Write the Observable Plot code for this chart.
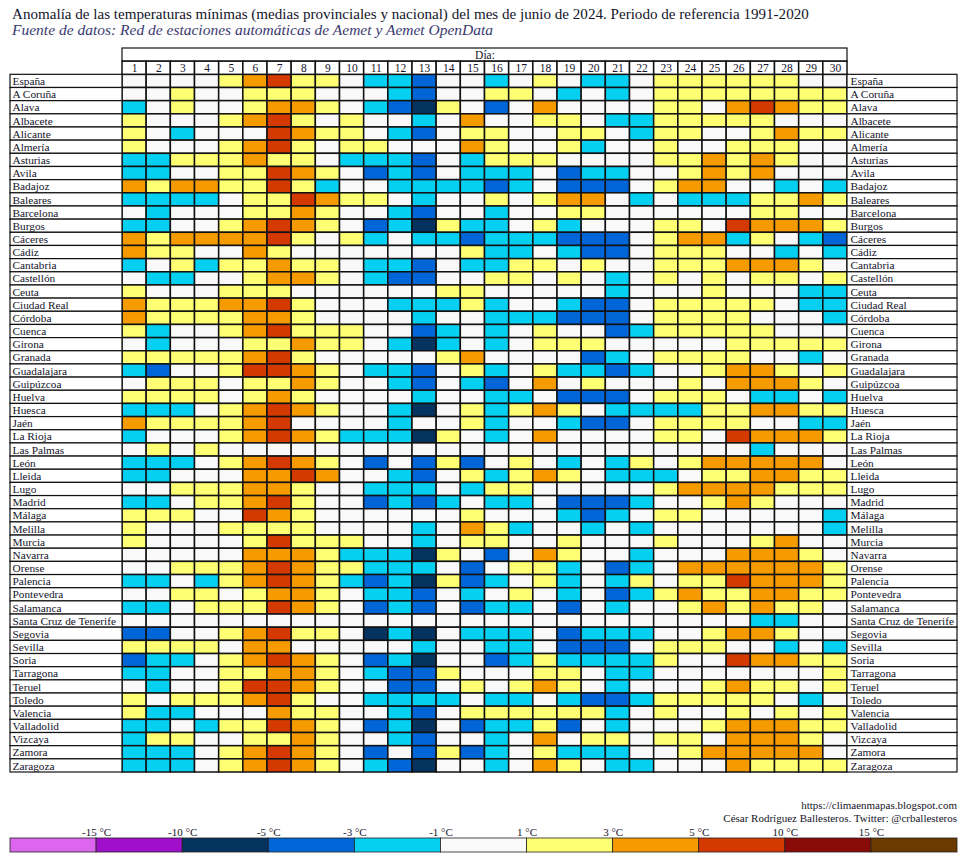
<!DOCTYPE html>
<html>
<head>
<meta charset="utf-8">
<script src="https://cdn.jsdelivr.net/npm/d3@7"></script>
<script src="https://cdn.jsdelivr.net/npm/@observablehq/plot@0.6"></script>
<style>
  body { margin: 0; background: #fff; font-family: "Liberation Serif", "Times New Roman", serif; }
  #wrap { position: relative; width: 967px; height: 860px; overflow: hidden; }
  #chart, #legend { position: absolute; left: 0; }
  #chart { top: 0; }
  #legend { top: 820px; }
  #title { position: absolute; left: 12px; top: 6px; font-size: 15.1px; color: #14142a; white-space: nowrap; }
  #sub { position: absolute; left: 12px; top: 21px; font-size: 15.5px; font-style: italic; color: #3a3a70; white-space: nowrap; }
  #credit { position: absolute; right: 10px; top: 799px; font-size: 11px; line-height: 13px; text-align: right; color: #14142a; }
</style>
</head>
<body>
<div id="wrap">
  <div id="chart"></div>
  <div id="title">Anomalía de las temperaturas mínimas (medias provinciales y nacional) del mes de junio de 2024. Periodo de referencia 1991-2020</div>
  <div id="sub">Fuente de datos: Red de estaciones automáticas de Aemet y Aemet OpenData</div>
  <div id="credit">https://climaenmapas.blogspot.com<br>César Rodríguez Ballesteros. Twitter: @crballesteros</div>
  <div id="legend"></div>
</div>
<script>
// ---- Data ----
const dias = [1,2,3,4,5,6,7,8,9,10,11,12,13,14,15,16,17,18,19,20,21,22,23,24,25,26,27,28,29,30];

const provincias = ["España","A Coruña","Alava","Albacete","Alicante","Almería","Asturias","Avila","Badajoz","Baleares",
  "Barcelona","Burgos","Cáceres","Cádiz","Cantabria","Castellón","Ceuta","Ciudad Real","Córdoba","Cuenca",
  "Girona","Granada","Guadalajara","Guipúzcoa","Huelva","Huesca","Jaén","La Rioja","Las Palmas","León",
  "Lleida","Lugo","Madrid","Málaga","Melilla","Murcia","Navarra","Orense","Palencia","Pontevedra",
  "Salamanca","Santa Cruz de Tenerife","Segovia","Sevilla","Soria","Tarragona","Teruel","Toledo","Valencia","Valladolid",
  "Vizcaya","Zamora","Zaragoza"];

// Anomalía estimada (°C), días 1..30, una fila por provincia
const anomalias = [
  [0,0,0,0,2,4,7,2,2,0, -2,-2,-4,0,0,-2,0,2,0,-2, -2,0,2,2,2,2,2,2,0,0],      // España
  [0,0,2,0,0,2,2,2,0,0, 0,-2,-4,0,0,2,2,0,-2,0, -2,0,2,2,2,2,2,2,2,2],        // A Coruña
  [-2,0,2,0,0,2,4,4,2,0, -2,-4,-7,2,0,-4,0,4,0,0, 0,0,2,2,0,4,7,4,2,2],       // Alava
  [2,0,0,0,2,4,7,2,0,2, 0,0,-2,0,4,0,0,2,2,0, -2,-2,2,2,2,2,2,0,0,0],         // Albacete
  [2,0,-2,0,0,0,7,4,2,2, 0,-2,-4,0,2,2,0,0,2,2, 0,-2,2,2,0,0,2,4,2,2],        // Alicante
  [2,0,0,0,2,4,7,2,0,2, 2,0,0,0,4,2,0,0,2,-2, 0,0,2,0,0,2,2,2,0,0],           // Almería
  [-2,-2,2,2,2,4,2,2,0,-2, -2,-2,-4,0,-2,2,2,2,0,0, 0,0,2,2,4,2,4,2,0,0],     // Asturias
  [-2,-2,0,0,2,2,7,4,2,0, -4,-2,-4,0,-2,-2,-2,0,-4,-2, -2,0,0,2,4,2,4,0,0,0], // Avila
  [4,2,4,4,2,2,7,2,-2,0, 0,-2,-2,-2,-2,-4,-2,0,-4,-4, -4,0,2,4,4,0,0,-2,0,-2],// Badajoz
  [-2,-2,-2,-2,0,2,2,7,4,2, 2,0,-2,0,0,2,0,2,4,4, 0,-2,0,-2,-2,-2,2,2,4,2],   // Baleares
  [0,-2,0,0,0,2,2,4,2,0, 0,-2,-4,0,0,-2,0,0,2,2, 0,0,0,0,0,0,2,2,0,0],        // Barcelona
  [-2,-2,0,0,2,4,7,4,2,0, -4,-2,-7,2,-2,-2,0,2,-2,0, 0,0,2,2,0,7,4,4,4,2],    // Burgos
  [4,2,4,4,4,4,7,2,0,2, -2,0,-2,-2,-4,-2,-2,-2,-4,-4, -4,0,2,4,4,-2,2,0,-2,-4],// Cáceres
  [4,2,2,0,0,4,2,0,0,0, 0,0,0,0,2,-2,-2,0,-2,-4, -4,0,2,2,2,0,0,-2,0,-2],     // Cádiz
  [-2,0,2,-2,2,2,4,2,2,0, -2,-2,-4,0,-2,-2,2,2,0,2, 0,0,2,2,2,4,4,4,2,0],     // Cantabria
  [0,-2,-2,0,0,2,4,4,2,0, -2,-4,-4,0,0,2,2,0,2,0, -2,0,2,0,2,0,2,2,0,2],      // Castellón
  [2,0,0,0,2,2,2,0,0,0, 0,0,0,2,2,0,0,0,0,0, -2,0,0,0,2,0,0,0,-2,-2],         // Ceuta
  [4,2,2,2,4,4,7,2,0,0, 0,-2,-2,-2,2,-2,0,0,-2,-4, -4,0,2,2,2,2,2,0,-2,-2],   // Ciudad Real
  [4,2,2,2,2,4,4,2,0,0, 0,0,-2,0,0,-2,-2,-2,-4,-4, -4,0,2,2,2,2,0,0,0,-2],    // Córdoba
  [2,-2,0,0,2,4,7,2,2,2, 0,0,-4,-2,0,-2,0,2,0,0, -4,-2,2,2,2,2,2,0,0,0],      // Cuenca
  [0,-2,0,0,0,2,2,4,2,2, 0,-2,-7,-2,0,-2,0,2,2,2, 0,0,0,0,0,2,2,2,2,2],       // Girona
  [2,2,2,2,2,4,7,2,0,0, 0,0,0,2,4,0,0,0,0,-4, -2,0,2,2,2,2,0,0,-2,0],         // Granada
  [-2,-4,0,0,2,7,7,4,2,0, -2,-2,-4,0,2,-2,0,2,-2,-2, -4,-2,0,0,2,4,4,2,0,2],  // Guadalajara
  [0,2,2,2,0,2,2,4,2,0, 0,-2,-4,0,-2,-4,0,4,0,2, 0,0,0,2,0,4,4,4,2,0],        // Guipúzcoa
  [2,2,2,2,0,2,4,2,0,0, 0,0,-2,0,0,-2,-2,0,-4,-4, -4,0,2,2,2,0,-2,-2,0,-2],   // Huelva
  [-2,-2,-2,0,2,4,7,4,2,0, 0,-2,-7,0,2,-2,2,4,2,0, -2,-2,-2,-2,2,2,4,4,2,2],  // Huesca
  [4,2,2,2,2,4,7,0,0,0, 0,-2,0,0,2,-2,0,0,-2,-4, -4,0,2,2,2,2,0,0,-2,-2],     // Jaén
  [-2,0,0,0,2,4,7,4,2,-2, -2,-2,-7,2,0,-2,0,4,0,0, 0,0,2,2,0,7,4,4,4,2],      // La Rioja
  [0,2,0,2,0,0,0,0,0,0, 0,0,0,0,0,0,0,0,0,0, 0,0,0,0,0,0,-2,0,0,0],           // Las Palmas
  [-2,-2,-2,0,2,4,7,4,2,0, -4,0,-4,2,-4,0,2,0,-2,0, -2,2,0,2,4,4,4,4,4,0],    // León
  [-2,-2,0,0,0,4,4,7,4,0, 0,-2,-4,0,2,-2,2,4,2,0, -2,-2,-2,0,2,2,4,4,2,2],    // Lleida
  [0,0,2,2,2,4,4,2,0,0, -2,-2,-2,0,-2,2,2,0,0,0, 0,0,2,4,4,4,4,2,2,2],        // Lugo
  [-2,-2,0,2,2,4,7,2,0,0, -4,-2,-4,-2,0,-2,-2,0,-4,-4, -4,-2,0,0,2,4,2,0,0,0],// Madrid
  [2,2,2,0,0,7,4,2,0,0, 0,0,0,0,2,0,0,0,-2,-4, -2,0,2,2,0,0,0,0,0,-2],        // Málaga
  [2,0,0,0,2,2,2,2,0,0, 0,0,-2,0,4,2,-2,0,0,-2, 0,-2,0,0,0,0,0,0,0,-2],       // Melilla
  [2,0,0,0,0,2,7,2,2,2, 0,0,-2,0,2,2,0,0,2,0, 0,0,2,0,0,0,2,4,0,0],           // Murcia
  [0,0,0,0,0,4,4,4,2,-2, -2,-2,-7,2,0,-4,0,4,2,0, 0,-2,0,0,0,4,4,4,2,0],      // Navarra
  [0,0,2,2,2,4,7,4,2,2, -2,-2,-2,0,-4,0,2,2,-2,0, -4,-2,0,4,4,4,4,4,4,2],     // Orense
  [-2,-2,0,-2,2,4,7,4,2,-2, -4,-2,-7,2,-4,-2,0,2,-2,0, -2,2,0,2,2,7,4,4,4,2], // Palencia
  [0,0,2,2,0,2,4,4,2,0, -2,-2,-4,0,-2,0,2,0,-2,0, -4,-2,2,4,2,2,4,4,2,2],     // Pontevedra
  [-2,-2,0,2,2,2,7,4,2,0, -4,-2,-4,0,-4,-2,-2,0,-4,0, -2,0,0,2,4,2,4,2,2,0],  // Salamanca
  [0,0,0,0,0,0,0,0,0,0, 0,0,0,0,0,0,0,0,0,0, 0,0,0,0,0,0,-2,-2,0,0],          // Santa Cruz de Tenerife
  [-4,-4,0,0,2,4,7,2,2,0, -7,-2,-7,0,-2,-2,-2,0,-4,-2, -2,-2,0,0,2,4,4,2,0,0],// Segovia
  [2,2,2,2,0,4,4,0,0,0, 0,0,-2,0,0,-2,-2,0,-4,-4, -4,0,2,2,2,0,0,-2,0,-2],    // Sevilla
  [-4,-2,-2,0,2,4,7,4,2,0, -4,-2,-7,0,0,-4,-2,2,-2,-2, -2,-2,2,0,0,7,4,4,2,2],// Soria
  [-2,-2,0,0,2,2,4,4,2,0, -2,-4,-4,2,0,0,0,2,2,0, -2,-2,0,0,0,0,0,0,0,2],     // Tarragona
  [0,-2,0,0,2,7,7,4,2,0, 0,-4,-4,0,2,0,2,4,2,0, -2,0,0,0,2,4,2,2,0,2],        // Teruel
  [2,0,2,2,2,4,7,2,0,0, -2,-2,-2,-2,0,-2,-2,0,-2,-4, -4,-2,2,2,2,2,2,0,-2,0], // Toledo
  [2,-2,-2,0,0,0,4,2,2,0, 0,-2,-4,0,2,2,2,2,2,2, -2,0,2,0,0,2,0,2,0,2],       // Valencia
  [-2,-2,0,-2,2,2,7,4,2,0, -4,-2,-7,0,-4,-2,-2,2,-4,0, -2,0,0,0,2,4,4,4,2,2], // Valladolid
  [-2,2,2,0,0,2,2,4,2,0, 0,-2,-4,0,0,-2,0,4,0,2, 2,0,2,2,0,4,4,4,2,0],        // Vizcaya
  [-2,-2,-2,0,2,4,7,4,2,0, -4,0,-4,2,-4,-2,0,2,-2,-2, -2,0,0,2,4,4,4,4,4,0],  // Zamora
  [-2,-2,-2,0,2,4,7,4,2,0, -2,-4,-7,0,0,-2,0,4,2,0, -2,-2,0,0,0,4,2,2,2,2]    // Zaragoza
];

// Legend classes
const umbrales = [-15, -10, -5, -3, -1, 1, 3, 5, 10, 15];
const etiquetasUmbral = ["-15 °C","-10 °C","-5 °C","-3 °C","-1 °C","1 °C","3 °C","5 °C","10 °C","15 °C"];
const colores = ["#dd66ee","#a010cc","#05335f","#0066d8","#05d0f2","#f9f9f9","#ffff73","#f59b00","#d43a00","#8a0a0a","#6b3a00"];

// ---- Build ----
const cells = [];
provincias.forEach((p, i) => anomalias[i].forEach((v, j) => cells.push({provincia: p, dia: dias[j], valor: v})));

const W = 967, H = 860;
const mL = 122, mR = 120, mT = 48, mB = 88;
const gridW = W - mL - mR;
const leftBox = 112, rightBox = 110;
const ink = "#14142a";
const filas = ["__dia", "__num", ...provincias];

const chart = Plot.plot({
  width: W, height: H,
  marginTop: mT, marginBottom: mB, marginLeft: mL, marginRight: mR,
  style: {fontFamily: "'Liberation Serif', 'Times New Roman', serif", fontSize: "11.3px", background: "transparent"},
  x: {type: "band", domain: dias, padding: 0, round: false, axis: null},
  y: {type: "band", domain: filas, padding: 0, round: false, axis: null},
  color: {type: "threshold", domain: umbrales, range: colores},
  marks: [
    // heat cells
    Plot.cell(cells, {x: "dia", y: "provincia", fill: "valor", stroke: "#111", strokeWidth: 1.5, inset: 0}),
    // header "Día:"
    Plot.cell(["__dia"], {y: d => d, fill: "white", stroke: "#111", strokeWidth: 1.2, inset: 0}),
    Plot.text(["__dia"], {y: d => d, text: () => "Día:", fill: ink, fontSize: 11.5}),
    // day numbers
    Plot.cell(dias, {x: d => d, y: () => "__num", fill: "white", stroke: "#111", strokeWidth: 1.5, inset: 0}),
    Plot.text(dias, {x: d => d, y: () => "__num", text: d => String(d), fill: ink, fontSize: 11.5}),
    // left label boxes
    Plot.cell(provincias, {y: d => d, fill: "white", stroke: "#111", strokeWidth: 1.2, insetLeft: -leftBox, insetRight: gridW}),
    Plot.text(provincias, {y: d => d, text: d => d, frameAnchor: "left", textAnchor: "start", dx: -leftBox + 2, fill: ink}),
    // right label boxes
    Plot.cell(provincias, {y: d => d, fill: "white", stroke: "#111", strokeWidth: 1.2, insetLeft: gridW, insetRight: -rightBox}),
    Plot.text(provincias, {y: d => d, text: d => d, frameAnchor: "right", textAnchor: "start", dx: 3, fill: ink})
  ]
});
document.getElementById("chart").appendChild(chart);

// legend
const clases = colores.map((c, i) => ({i, c}));
const legend = Plot.plot({
  width: W, height: 36,
  marginLeft: 10, marginRight: 10, marginTop: 18, marginBottom: 4,
  style: {fontFamily: "'Liberation Serif', 'Times New Roman', serif", fontSize: "11px", background: "transparent"},
  x: {domain: [0, colores.length], axis: null},
  y: {axis: null},
  marks: [
    Plot.rect(clases, {x1: d => d.i, x2: d => d.i + 1, fill: d => d.c, stroke: "#222", strokeWidth: 0.8}),
    Plot.text(etiquetasUmbral, {x: (d, i) => i + 1, text: d => d, frameAnchor: "top", lineAnchor: "bottom", dy: -3, fill: ink})
  ]
});
document.getElementById("legend").appendChild(legend);
</script>
</body>
</html>
